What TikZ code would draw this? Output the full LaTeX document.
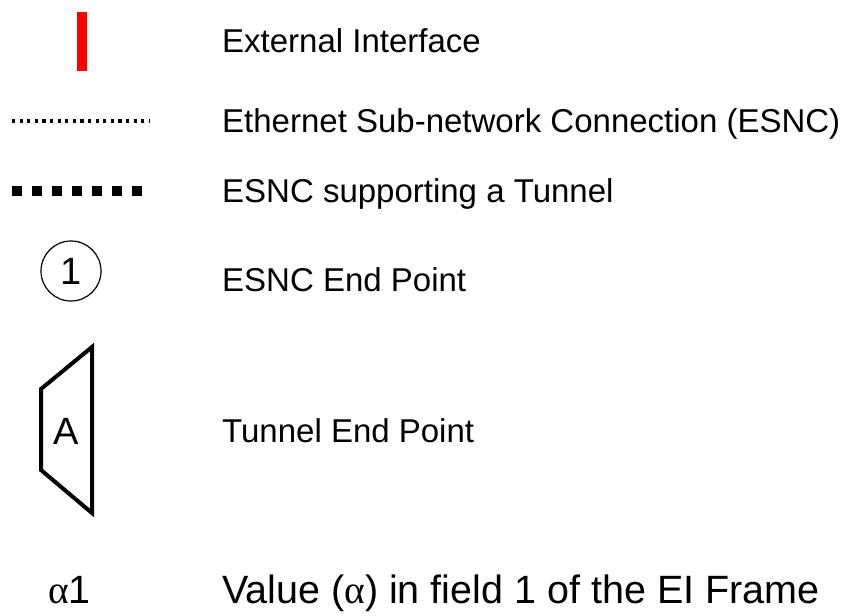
\documentclass[tikz,border=0pt]{standalone}
\usepackage{fontspec}
\setmainfont{Liberation Sans}
\newfontfamily\symfont{Liberation Serif}
\begin{document}
\begin{tikzpicture}[x=1pt,y=-1pt,
  legendtext/.style={anchor=base west,inner sep=0pt,font=\fontsize{33}{39}\selectfont},
  symtext/.style={inner sep=0pt,font=\fontsize{38}{44}\selectfont},
  bigtext/.style={anchor=base west,inner sep=0pt,font=\fontsize{39.5}{46}\selectfont}]
\useasboundingbox (0,0) rectangle (844,616);

% external interface: thick red bar
\draw[red,line width=10pt] (81.5,12) -- (81.5,71);
\node[legendtext] (t1) at (222,52) {External Interface};

% ESNC: fine dotted line
\coordinate (d1) at (12,121);
\coordinate (d2) at (150,121);
\draw[line width=3.2pt,dash pattern=on 3.2pt off 4.4pt] (d1) -- (d2);
\node[legendtext] (t2) at (222,132) {Ethernet Sub-network Connection (ESNC)};

% ESNC supporting a tunnel: heavy square dashes
\coordinate (s1) at (12,191);
\coordinate (s2) at (142,191);
\draw[line width=10pt,dash pattern=on 10pt off 10pt] (s1) -- (s2);
\node[legendtext] (t3) at (222,202) {ESNC supporting a Tunnel};

% ESNC end point
\node[draw,circle,minimum size=60pt,line width=1.2pt,symtext] (ep) at (71,271) {1};
\node[legendtext] (t4) at (222,291) {ESNC End Point};

% tunnel end point
\draw[line width=4pt,line join=miter] (92,347) -- (41,389) -- (41,470) -- (92,513) -- cycle;
\node[symtext] (tp) at (66,431) {A};
\node[legendtext] (t5) at (222,442) {Tunnel End Point};

% field value notation
\node[bigtext] (av) at (48,603) {{\symfont α}1};
\node[bigtext] (t6) at (222,603) {Value ({\symfont α}) in field 1 of the EI Frame};
\end{tikzpicture}
\end{document}
